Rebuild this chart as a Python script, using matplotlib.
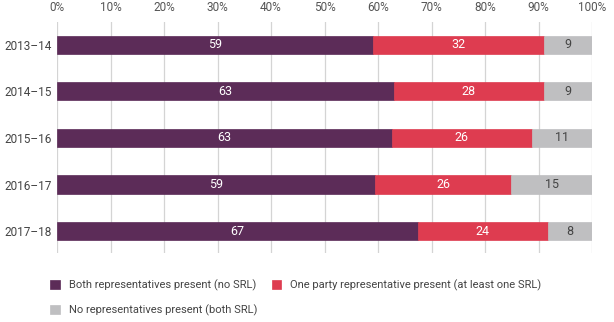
import matplotlib
matplotlib.use("Agg")
import matplotlib.pyplot as plt
import numpy as np

plt.rcParams['font.family'] = ['Roboto', 'DejaVu Sans']

years = ["2013–14", "2014–15", "2015–16", "2016–17", "2017–18"]
both = [59.1, 62.9, 62.6, 59.4, 67.4]
one = [31.9, 28.1, 26.1, 25.5, 24.4]
none = [9.0, 9.0, 11.3, 15.1, 8.2]
both_labels = [59, 63, 63, 59, 67]
one_labels = [32, 28, 26, 26, 24]
none_labels = [9, 9, 11, 15, 8]
series_names = ["Both representatives present (no SRL)",
                "One party representative present (at least one SRL)",
                "No representatives present (both SRL)"]
colors = ["#5c2c58", "#de3c50", "#bfbfc1"]
text_colors = ["white", "white", "#444444"]
xticks = [0, 10, 20, 30, 40, 50, 60, 70, 80, 90, 100]

fig = plt.figure(figsize=(6.14, 3.22), dpi=100)
ax = fig.add_axes([57/614, 1-253/322, 535/614, 231/322])

y = np.arange(len(years))
left = np.zeros(len(years))
handles = []
for vals, labs, c, tc, name in zip([both, one, none], [both_labels, one_labels, none_labels],
                                   colors, text_colors, series_names):
    vals = np.array(vals, dtype=float)
    b = ax.barh(y, vals, left=left, height=0.39, color=c, edgecolor=c, linewidth=0.5, label=name, zorder=2)
    handles.append(b)
    for yi, l, v, lab in zip(y, left, vals, labs):
        ax.text(l + v/2, yi, f"{lab}", ha='center', va='center', color=tc, fontsize=9, zorder=3)
    left = left + vals

ax.set_xlim(0, 100)
ax.set_ylim(4.47, -0.49)
ax.set_xticks(xticks)
ax.set_xticklabels([f"{t}%" for t in xticks])
ax.xaxis.tick_top()
ax.tick_params(axis='x', length=0, pad=6, labelsize=8.5, labelcolor='#555555')
ax.set_yticks(y)
ax.set_yticklabels(years)
ax.tick_params(axis='y', length=0, pad=4, labelsize=8.5, labelcolor='#444444')
ax.grid(axis='x', color='#d4d4d4', linewidth=0.9, zorder=0)
ax.set_axisbelow(True)
for s in ax.spines.values():
    s.set_visible(False)

order = [0, 2, 1]
fig.legend(handles=[handles[i] for i in order], labels=[series_names[i] for i in order],
           loc='upper left', bbox_to_anchor=(46/614, 1-275/322), ncol=2, frameon=False,
           fontsize=8, handlelength=0.85, handleheight=0.85, handletextpad=0.8,
           columnspacing=1.3, labelspacing=1.2, labelcolor='#444444', borderaxespad=0)

fig.savefig("out.png", dpi=100)
